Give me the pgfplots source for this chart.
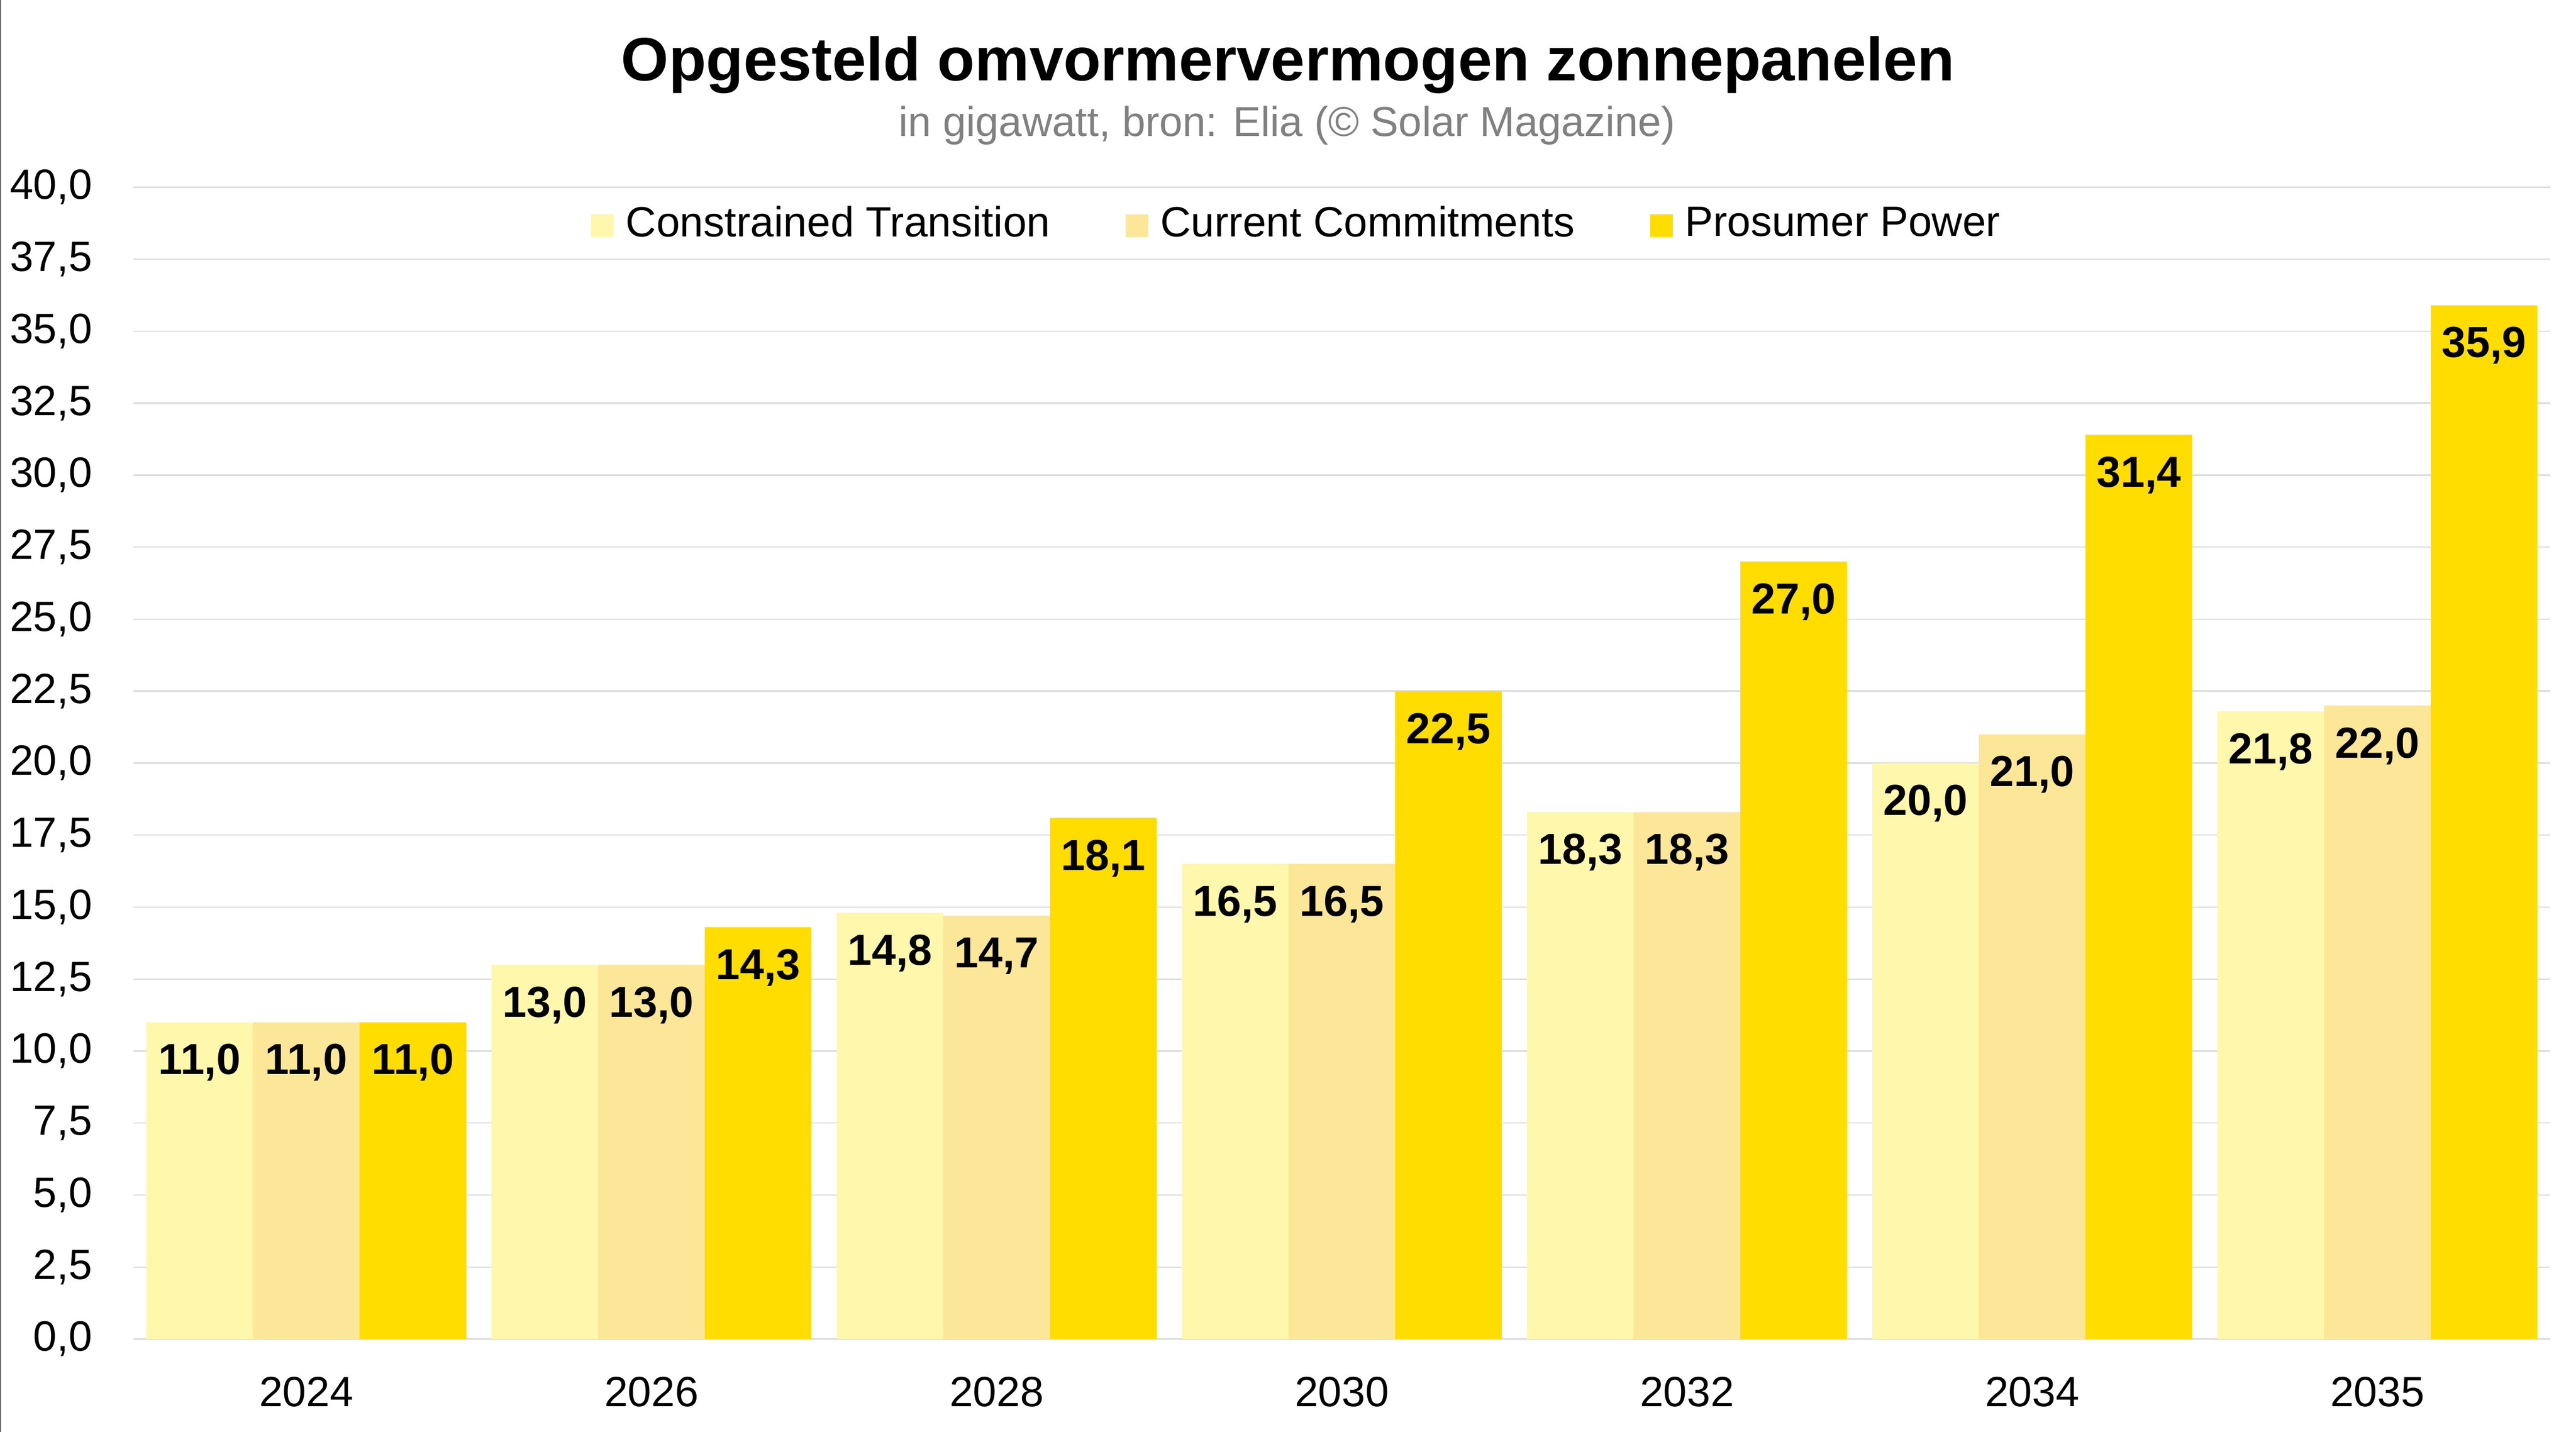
\documentclass[border=0pt]{standalone}
\usepackage{fontspec}
\setmainfont{Liberation Sans}
\usepackage{pgfplots}
\pgfplotsset{compat=1.18}
\definecolor{ct}{RGB}{255,247,172}
\definecolor{cc}{RGB}{252,230,152}
\definecolor{pp}{RGB}{255,221,0}
\definecolor{gridc}{RGB}{217,217,217}
\definecolor{subc}{RGB}{128,128,128}
\pgfplotsset{sqlegend/.style={legend image code/.code={\fill[##1] (0pt,-2.3pt) rectangle (4.4pt,2.1pt);}}}
\begin{document}
\begin{tikzpicture}
\useasboundingbox (0,0) rectangle (504.9pt,280.7pt);
\fill[white] (0,0) rectangle (504.9pt,280.7pt);
\draw[color=black!60, line width=0.15pt] (0.1pt,0) -- (0.1pt,280.7pt);
\node[anchor=base, inner sep=0pt, font=\fontsize{12}{14}\selectfont\bfseries] at (252.45pt,264.9pt) {Opgesteld omvormervermogen zonnepanelen};
\node[anchor=base, inner sep=0pt, text=subc, font=\fontsize{8.2}{10}\selectfont] at (252.3pt,254.0pt) {in gigawatt, bron: Elia (© Solar Magazine)};
\begin{axis}[
  at={(26.2pt,18.2pt)}, anchor=south west,
  scale only axis, width=473.6pt, height=225.8pt,
  ybar=0pt, bar width=20.9pt,
  xmin=-0.5, xmax=6.5, ymin=0, ymax=40,
  xtick={0,...,6}, xticklabels={2024,2026,2028,2030,2032,2034,2035},
  ytick={0,2.5,...,40},
  ymajorgrids, major grid style={gridc, line width=0.25pt},
  axis x line=bottom, axis y line=left,
  x axis line style={gridc, line width=0.3pt, -},
  y axis line style={draw=none},
  major tick length=0pt,
  tick label style={font=\fontsize{8.3}{10}\selectfont, inner sep=0pt},
  xticklabel style={anchor=north, yshift=-7.2pt},
  yticklabel style={anchor=east, xshift=-7.9pt, /pgf/number format/fixed, /pgf/number format/fixed zerofill, /pgf/number format/precision=1, /pgf/number format/use comma},
  /pgf/number format/assume math mode=true,
  nodes near coords={\pgfmathprintnumber[fixed,fixed zerofill,precision=1,use comma,assume math mode=true]{\pgfplotspointmeta}},
  nodes near coords style={anchor=north, inner sep=0pt, yshift=-4.1pt, font=\fontsize{8.5}{10}\selectfont\bfseries, text=black},
  legend columns=3,
  legend style={at={(0.4809,0.9845)}, anchor=north, draw=none, fill=none, inner sep=0pt, font=\fontsize{8.3}{10}\selectfont, nodes={inner sep=0pt}, /tikz/every odd column/.append style={column sep=2.4pt}, /tikz/every even column/.append style={column sep=14.8pt}},
]
\addplot[fill=ct, draw=none, sqlegend] coordinates {(0,11.0) (1,13.0) (2,14.8) (3,16.5) (4,18.3) (5,20.0) (6,21.8)};
\addlegendentry{Constrained Transition}
\addplot[fill=cc, draw=none, sqlegend] coordinates {(0,11.0) (1,13.0) (2,14.7) (3,16.5) (4,18.3) (5,21.0) (6,22.0)};
\addlegendentry{Current Commitments}
\addplot[fill=pp, draw=none, sqlegend] coordinates {(0,11.0) (1,14.3) (2,18.1) (3,22.5) (4,27.0) (5,31.4) (6,35.9)};
\addlegendentry{Prosumer Power}
\end{axis}
\end{tikzpicture}
\end{document}
